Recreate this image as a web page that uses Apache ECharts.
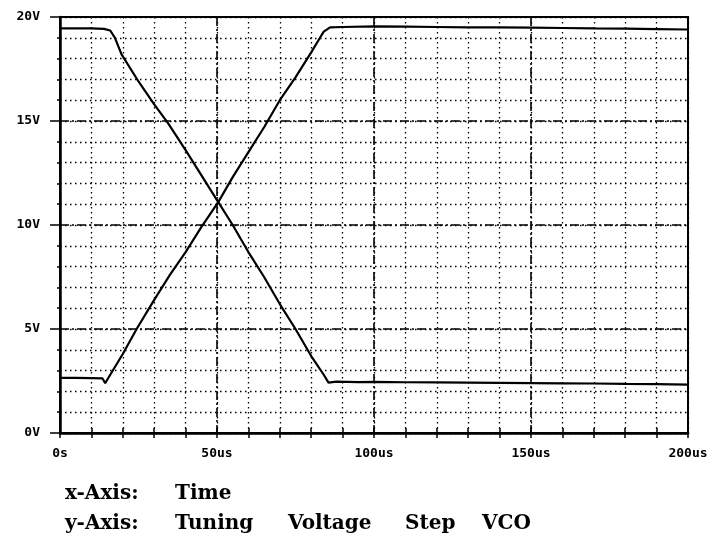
<!DOCTYPE html>
<html>
<head>
<meta charset="utf-8">
<script src="https://cdn.jsdelivr.net/npm/echarts@6/dist/echarts.min.js"></script>
<style>html,body{margin:0;padding:0;background:#fff}#c{width:713px;height:541px}</style>
</head>
<body>
<div id="c"></div>
<script>
// Time axis (us) and tick labels
const xTickLabels = {0: '0s', 50: '50us', 100: '100us', 150: '150us', 200: '200us'};
const yTickLabels = {0: '0V', 5: '5V', 10: '10V', 15: '15V', 20: '20V'};

// Falling trace: [time us, volts]
const fallT = [0, 5, 10, 14, 16, 17.5, 19.6, 25, 30, 34.4, 40, 45, 50.4, 55, 60, 65, 70, 75, 80, 84, 85.5, 88, 95, 100, 110, 120, 130, 140, 150, 160, 170, 180, 190, 200];
const fallV = [19.45, 19.45, 19.45, 19.43, 19.35, 19.0, 18.2, 16.9, 15.8, 14.9, 13.6, 12.4, 11.1, 10.0, 8.7, 7.5, 6.2, 5.0, 3.7, 2.8, 2.42, 2.47, 2.45, 2.46, 2.44, 2.43, 2.42, 2.41, 2.4, 2.39, 2.38, 2.36, 2.35, 2.33];

// Rising trace: [time us, volts]
const riseT = [0, 5, 10, 13.5, 14.4, 16, 20, 24.4, 30, 35, 40, 45, 50.4, 55, 60, 65, 70, 75, 80, 82.8, 84, 86, 90, 100, 110, 120, 130, 140, 150, 160, 170, 180, 190, 200];
const riseV = [2.65, 2.65, 2.64, 2.63, 2.4, 2.8, 3.8, 5.0, 6.4, 7.6, 8.7, 9.9, 11.1, 12.3, 13.5, 14.7, 16.0, 17.1, 18.3, 19.0, 19.3, 19.5, 19.52, 19.55, 19.54, 19.52, 19.5, 19.5, 19.49, 19.47, 19.45, 19.44, 19.42, 19.4];

// Caption words
const caption1 = ['x-Axis:', 'Time'];
const caption2 = ['y-Axis:', 'Tuning', 'Voltage', 'Step', 'VCO'];

const fallData = fallT.map((t, i) => [t, fallV[i]]);
const riseData = riseT.map((t, i) => [t, riseV[i]]);

const labelFont = {fontFamily: 'DejaVu Sans Mono', fontWeight: 'bold', fontSize: 13, color: '#000'};
const dotted = {color: '#000', width: 1.3, type: [1.5, 3.5]};
const dashDot = {color: '#000', width: 1.6, type: [9, 3, 2, 3]};

const capFont = 'bold 20px "DejaVu Serif"';
const cap1X = [65, 175];
const cap2X = [65, 175, 288, 405, 482];
const graphics = [];
caption1.forEach((w, i) => graphics.push({type: 'text', left: cap1X[i], top: 484, style: {text: w, font: capFont, fill: '#000'}}));
caption2.forEach((w, i) => graphics.push({type: 'text', left: cap2X[i], top: 514, style: {text: w, font: capFont, fill: '#000'}}));

const chart = echarts.init(document.getElementById('c'), null, {renderer: 'canvas'});
chart.setOption({
  animation: false,
  backgroundColor: '#fff',
  grid: {left: 60, right: 25, top: 17, bottom: 108, show: true, borderColor: '#000', borderWidth: 2, backgroundColor: 'transparent'},
  xAxis: [
    {type: 'value', min: 0, max: 200, interval: 10, position: 'bottom',
     axisLine: {lineStyle: {color: '#000', width: 2.5}},
     axisTick: {show: true, length: 5, lineStyle: {color: '#000', width: 1.5}},
     axisLabel: {show: false},
     splitLine: {show: true, lineStyle: dotted}},
    {type: 'value', min: 0, max: 200, interval: 10, position: 'bottom',
     axisLine: {show: false},
     axisTick: {show: true, inside: true, length: 5, lineStyle: {color: '#000', width: 1.5}},
     axisLabel: {show: false},
     splitLine: {show: false}},
    {type: 'value', min: 0, max: 200, interval: 50, position: 'bottom',
     axisLine: {show: false},
     axisTick: {show: false},
     axisLabel: Object.assign({show: true, margin: 14, formatter: v => xTickLabels[v] || ''}, labelFont),
     splitLine: {show: true, lineStyle: dashDot}}
  ],
  yAxis: [
    {type: 'value', min: 0, max: 20, interval: 1, position: 'left',
     axisLine: {show: true, lineStyle: {color: '#000', width: 2.5}},
     axisTick: {show: true, length: 3, lineStyle: {color: '#000', width: 1.5}},
     axisLabel: {show: false},
     splitLine: {show: true, lineStyle: dotted}},
    {type: 'value', min: 0, max: 20, interval: 5, position: 'left', offset: 0,
     axisLine: {show: false},
     axisTick: {show: true, length: 10, lineStyle: {color: '#000', width: 1.5}},
     axisLabel: Object.assign({show: true, margin: 20, formatter: v => yTickLabels[v] || ''}, labelFont),
     splitLine: {show: true, lineStyle: dashDot}}
  ],
  series: [
    {type: 'line', data: fallData, xAxisIndex: 0, yAxisIndex: 0, showSymbol: false, lineStyle: {color: '#000', width: 2.2}, z: 5},
    {type: 'line', data: riseData, xAxisIndex: 0, yAxisIndex: 0, showSymbol: false, lineStyle: {color: '#000', width: 2.2}, z: 5}
  ],
  graphic: graphics
});
</script>
</body>
</html>
